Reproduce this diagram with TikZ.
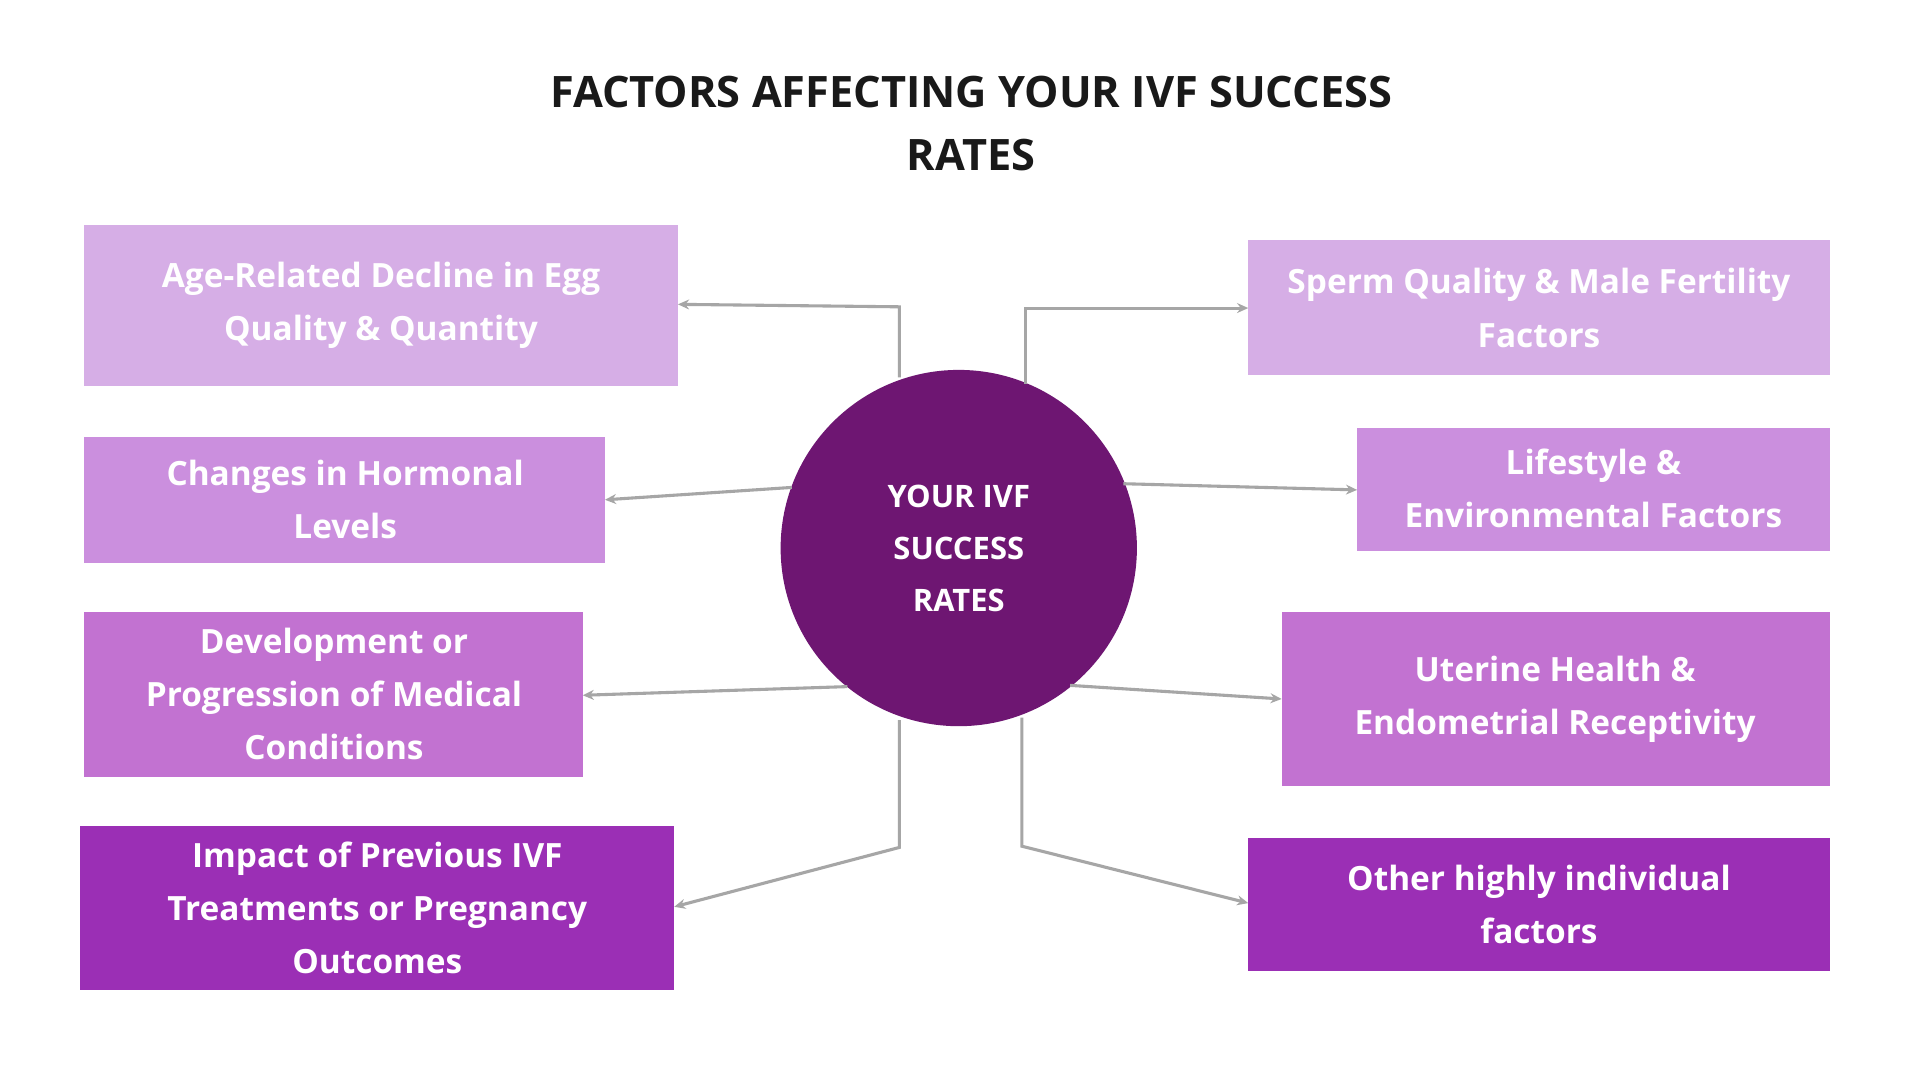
\documentclass[tikz,border=0pt]{standalone}
\usepackage{fontspec}
\setmainfont{Open Sans}
\usetikzlibrary{arrows.meta}
\definecolor{cA}{HTML}{D6AEE6}
\definecolor{cB}{HTML}{CB8FDE}
\definecolor{cC}{HTML}{C272D1}
\definecolor{cD}{HTML}{9B2FB5}
\definecolor{cM}{HTML}{6E1672}
\definecolor{ln}{HTML}{A6A6A6}
\begin{document}
\begin{tikzpicture}[x=1pt,y=-1pt,
  box/.style={inner sep=0pt,align=center,text=white,font=\bfseries\fontsize{27}{43}\selectfont},
  conn/.style={draw=ln,line width=2.5pt,-{Stealth[length=9pt,width=8pt]}}]
\useasboundingbox[fill=white] (0,0) rectangle (1552,873);
\node[font=\bfseries\fontsize{35}{51}\selectfont,align=center,text=black!90] (t) at (785,100) {FACTORS AFFECTING YOUR IVF SUCCESS\\RATES};
\fill[cM] (775,443) circle (144);
\node[circle,minimum size=288pt,inner sep=0pt] (c) at (775,443) {};
\node[box,font=\bfseries\fontsize{25}{42}\selectfont] at (775,443) {YOUR IVF\\SUCCESS\\RATES};
% boxes
\fill[cA] (68,182) rectangle (548,312); \node[box] (a) at (308,247) {Age-Related Decline in Egg\\Quality \& Quantity};
\path (68,182) coordinate(a1) (548,312) coordinate(a2);
\fill[cB] (68,353) rectangle (489,455); \node[box] (b) at (279,404) {Changes in Hormonal\\Levels};
\fill[cC] (68,495) rectangle (471,628); \node[box] (d) at (270,561) {Development or\\Progression of Medical\\Conditions};
\fill[cD] (65,668) rectangle (545,800); \node[box] (e) at (305,734) {Impact of Previous IVF\\Treatments or Pregnancy\\Outcomes};
\fill[cA] (1009,194) rectangle (1479,303); \node[box] (f) at (1244,249) {Sperm Quality \& Male Fertility\\Factors};
\fill[cB] (1097,346) rectangle (1479,445); \node[box] (g) at (1288,395) {Lifestyle \&\\Environmental Factors};
\fill[cC] (1036,495) rectangle (1479,635); \node[box] (h) at (1257,565) {Uterine Health \&\\Endometrial Receptivity};
\fill[cD] (1009,677) rectangle (1479,785); \node[box] (k) at (1244,731) {Other highly individual\\factors};
% end coordinates
\coordinate (ea) at (548,246); \coordinate (eb) at (489,404); \coordinate (ed) at (471,562); \coordinate (ee) at (545,733);
\coordinate (ef) at (1009,249); \coordinate (eg) at (1097,396); \coordinate (eh) at (1036,565); \coordinate (ek) at (1009,730);
\draw[conn] (727,305) -- (727,248) -- (ea);
\draw[conn] (829,310) -- (829,249) -- (ef);
\draw[conn] (640,394) -- (eb);
\draw[conn] (908,391) -- (eg);
\draw[conn] (685,555) -- (ed);
\draw[conn] (865,554) -- (eh);
\draw[conn] (727,582) -- (727,685) -- (ee);
\draw[conn] (826,580) -- (826,684) -- (ek);
\end{tikzpicture}
\end{document}
